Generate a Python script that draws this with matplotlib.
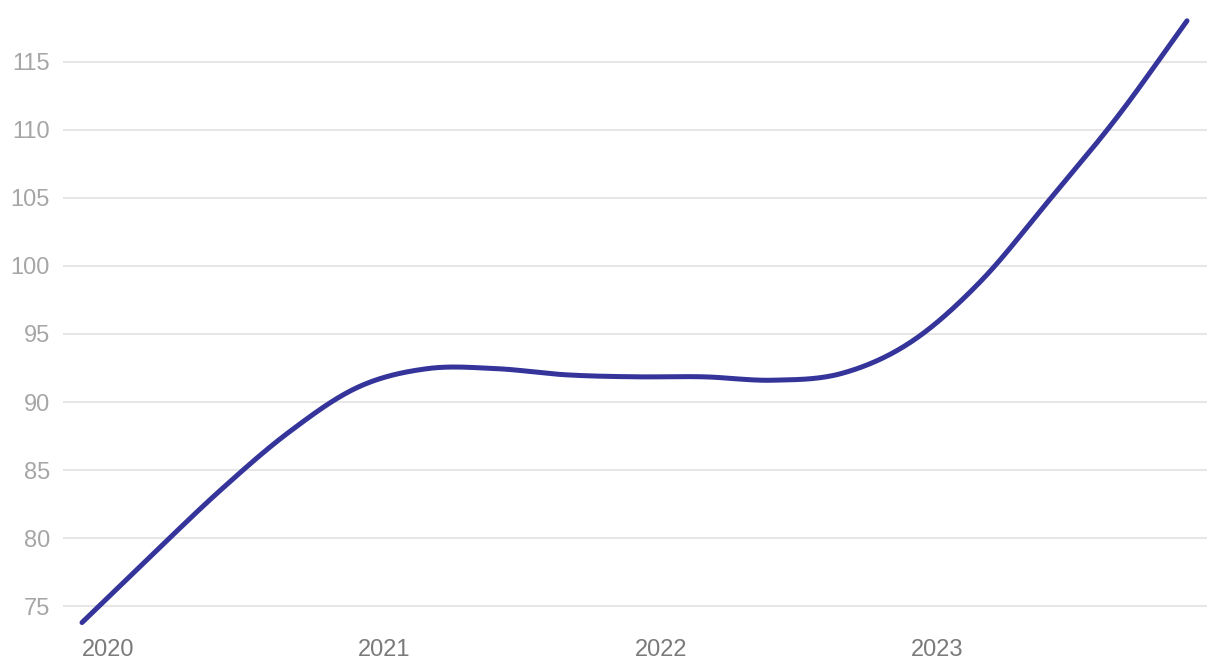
import matplotlib
matplotlib.use("Agg")
import matplotlib.pyplot as plt
import numpy as np


# quarterly readings, fractional year -> index value
quarters = [2020 + q / 4 for q in range(17)]
values = [73.8, 78.7, 83.5, 87.8, 91.1, 92.45, 92.45, 92.0, 91.85,
          91.85, 91.6, 92.1, 94.4, 98.8, 104.8, 111.0, 118.0]

year_ticks = [2020, 2021, 2022, 2023]
year_labels = ["2020", "2021", "2022", "2023"]
value_ticks = [75, 80, 85, 90, 95, 100, 105, 110, 115]

LINE_COLOR = "#34349a"
GRID_COLOR = "#e6e6e6"


def smooth(x, y, steps=30):
    # catmull-rom through the given points, for drawing only
    x = np.asarray(x, float)
    y = np.asarray(y, float)
    px = np.concatenate([[2 * x[0] - x[1]], x, [2 * x[-1] - x[-2]]])
    py = np.concatenate([[2 * y[0] - y[1]], y, [2 * y[-1] - y[-2]]])
    out_x, out_y = [], []
    t = np.linspace(0, 1, steps, endpoint=False)
    for i in range(1, len(px) - 2):
        for arr, out in ((px, out_x), (py, out_y)):
            p0, p1, p2, p3 = arr[i - 1], arr[i], arr[i + 1], arr[i + 2]
            out.append(0.5 * (2 * p1 + (-p0 + p2) * t
                              + (2 * p0 - 5 * p1 + 4 * p2 - p3) * t ** 2
                              + (-p0 + 3 * p1 - 3 * p2 + p3) * t ** 3))
    out_x.append([x[-1]])
    out_y.append([y[-1]])
    return np.concatenate(out_x), np.concatenate(out_y)


fig = plt.figure(figsize=(12.2, 6.68), dpi=100)
ax = fig.add_axes([63 / 1220, 40 / 668, 1144 / 1220, 614 / 668])

sx, sy = smooth(quarters, values)
ax.plot(sx, sy, color=LINE_COLOR, linewidth=3.6, solid_capstyle="round", zorder=3)

ax.set_xlim(2020 - 19 / 276.25, 2024 + 20 / 276.25)
ax.set_ylim(73.4, 118.5)

ax.set_yticks(value_ticks)
ax.set_xticks(year_ticks)
ax.set_xticklabels(year_labels, ha="left")
ax.grid(axis="y", color=GRID_COLOR, linewidth=1.4, zorder=0)
ax.grid(axis="x", visible=False)

for side in ax.spines.values():
    side.set_visible(False)

ax.tick_params(axis="y", length=0, pad=9.5, labelsize=17, labelcolor="#a6a6a6")
ax.tick_params(axis="x", length=0, pad=8, labelsize=17, labelcolor="#7a7a7a")
for lbl in ax.get_xticklabels() + ax.get_yticklabels():
    lbl.set_fontfamily("Liberation Sans")

fig.savefig("out.png", dpi=100)
